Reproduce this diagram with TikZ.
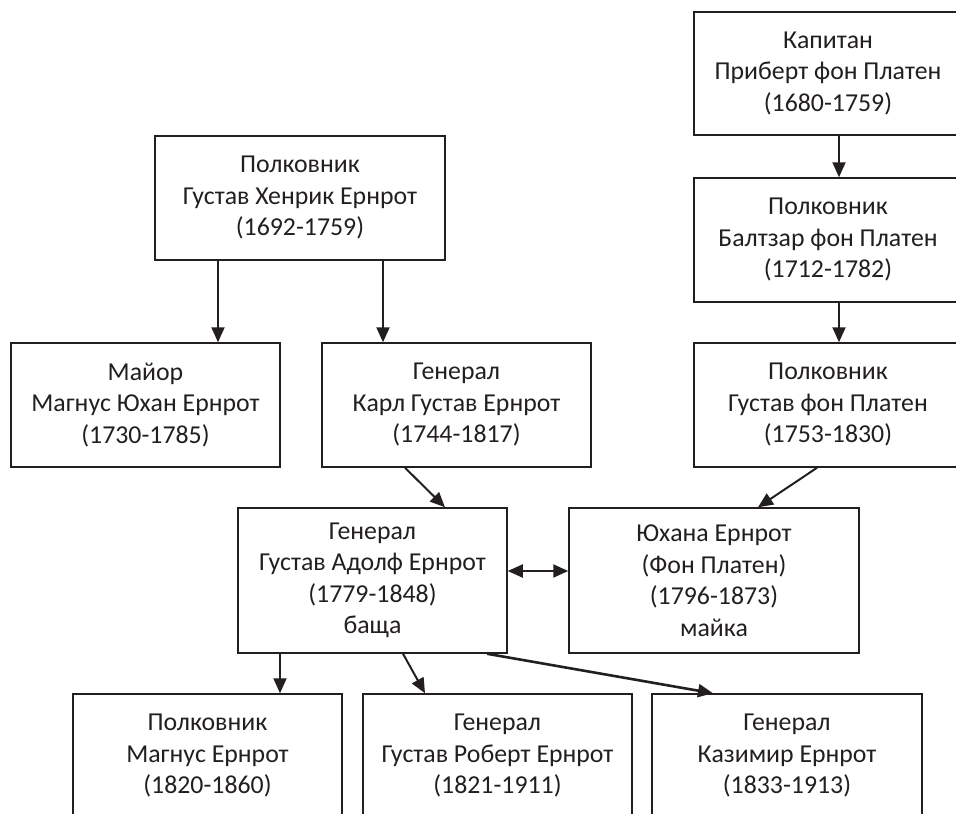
\documentclass[tikz,border=0pt]{standalone}
\usepackage{fontspec}
\setmainfont{Carlito}
\usetikzlibrary{arrows.meta}
\definecolor{ink}{HTML}{231F20}
\begin{document}
\begin{tikzpicture}[x=1pt,y=-1pt,
  box/.style={draw=ink, line width=1.5pt, fill=white, inner sep=0pt, align=center,
    font=\fontsize{25.8}{31.5}\selectfont, text=ink, minimum height=124pt},
  arr/.style={line width=2pt, draw=ink, -{Triangle[length=15pt,width=13pt]}},
  darr/.style={line width=2pt, draw=ink, {Triangle[length=15pt,width=13pt]}-{Triangle[length=15pt,width=13pt]}}]
\useasboundingbox (0,0) rectangle (956,814);
% right column
\node[box, minimum width=268pt, minimum height=123pt] (K) at (828,73.5) {Капитан\\Приберт фон Платен\\(1680-1759)};
\node[box, minimum width=268pt] (B) at (828,240) {Полковник\\Балтзар фон Платен\\(1712-1782)};
\node[box, minimum width=268pt] (P) at (828,405) {Полковник\\Густав фон Платен\\(1753-1830)};
% left
\node[box, minimum width=290pt] (H) at (300,198) {Полковник\\Густав Хенрик Ернрот\\(1692-1759)};
\node[box, minimum width=269pt] (M) at (145.5,405) {Майор\\Магнус Юхан Ернрот\\(1730-1785)};
\node[box, minimum width=269pt] (C) at (456.5,405) {Генерал\\Карл Густав Ернрот\\(1744-1817)};
% middle
\node[box, minimum width=269pt, minimum height=145pt] (A) at (372.5,580.5) {Генерал\\Густав Адолф Ернрот\\(1779-1848)\\баща};
\node[box, minimum width=290pt, minimum height=145pt] (J) at (714,580.5) {Юхана Ернрот\\(Фон Платен)\\(1796-1873)\\майка};
% bottom
\node[box, minimum width=269pt] (R1) at (207.5,756) {Полковник\\Магнус Ернрот\\(1820-1860)};
\node[box, minimum width=269pt] (R2) at (497.5,756) {Генерал\\Густав Роберт Ернрот\\(1821-1911)};
\node[box, minimum width=270pt] (R3) at (787,756) {Генерал\\Казимир Ернрот\\(1833-1913)};
% connectors
\draw[arr] ([xshift=-82pt]H.south) -- ([xshift=-82pt]H.south |- M.north);
\draw[arr] ([xshift=83pt]H.south) -- ([xshift=83pt]H.south |- C.north);
\draw[arr] ([xshift=11pt]K.south) -- ([xshift=11pt]B.north);
\draw[arr] ([xshift=11pt]B.south) -- ([xshift=11pt]P.north);
\draw[arr] ([xshift=-51.5pt]C.south) -- ([xshift=72.5pt]A.north);
\draw[arr] ([xshift=-11pt]P.south) -- ([xshift=44pt]J.north);
\draw[darr] ([yshift=9.5pt]A.east) -- ([yshift=9.5pt]A.east -| J.west);
\draw[arr] ([xshift=-92.5pt]A.south) -- ([xshift=72.5pt]R1.north);
\draw[arr] ([xshift=30.5pt]A.south) -- ([xshift=-72.5pt]R2.north);
\draw[arr, line width=2.6pt] ([xshift=114.5pt]A.south) -- ([xshift=-74pt]R3.north);
\end{tikzpicture}
\end{document}
